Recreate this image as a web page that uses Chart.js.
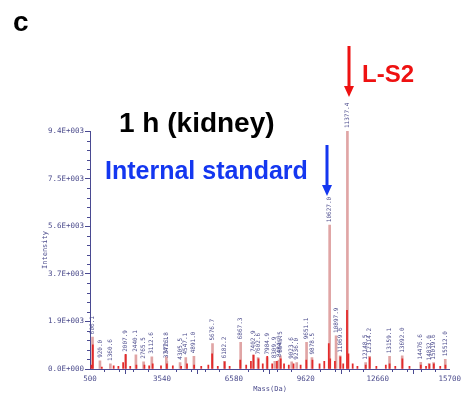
<!DOCTYPE html>
<html>
<head>
<meta charset="utf-8">
<script src="https://cdn.jsdelivr.net/npm/chart.js@4.4.1/dist/chart.umd.min.js"></script>
<style>
  html, body { margin: 0; padding: 0; background: #fff; }
  #wrap { width: 462px; height: 397px; position: relative; }
</style>
</head>
<body>
<div id="wrap"><canvas id="grafico" width="462" height="397"></canvas></div>
<script>
// picos rotulados (centroides, rosa claro)
const peakMasses = [606.1, 920.0, 1360.6, 2007.9, 2440.1, 2765.5, 3112.6, 3726.8, 3747.1, 4305.5, 4547.1, 4891.0,
  5676.7, 6182.2, 6867.3, 7402.9, 7602.6, 7984.9, 8309.9, 8484.0, 8545.5, 9023.6, 9236.0, 9651.1, 9878.5,
  10627.0, 10897.9, 11069.6, 11377.4, 12148.5, 12314.2, 13159.1, 13692.0, 14476.6, 14832.0, 15019.6, 15512.0];
const peakHeights = [1250, 320, 200, 560, 560, 280, 480, 480, 300, 250, 450, 500,
  1000, 300, 1050, 550, 450, 450, 300, 350, 520, 280, 250, 1050, 450,
  5650, 1300, 520, 9350, 250, 500, 500, 520, 260, 220, 250, 380];

// perfil (vermelho)
const redMasses = [560, 620, 1000, 1500, 1700, 1900, 2007, 2200, 2460, 2800, 3000, 3150, 3500, 3750, 4000, 4350,
  4600, 4900, 5200, 5500, 5660, 5900, 6190, 6400, 6850, 7100, 7300, 7410, 7620, 7800, 7990, 8200, 8400, 8560,
  8700, 8900, 9100, 9400, 9640, 9900, 10200, 10400, 10590, 10650, 10850, 11080, 11200, 11360, 11420, 11600,
  11800, 12150, 12320, 12600, 13000, 13160, 13400, 13700, 14000, 14480, 14700, 14840, 15030, 15300, 15520];
const redHeights = [150, 950, 80, 120, 100, 250, 580, 100, 150, 150, 120, 200, 120, 200, 120, 100,
  200, 150, 100, 150, 600, 100, 280, 100, 350, 150, 300, 550, 400, 200, 500, 200, 300, 400,
  200, 150, 200, 150, 350, 350, 200, 300, 1000, 400, 300, 480, 200, 2300, 600, 200,
  100, 150, 450, 100, 150, 200, 100, 400, 100, 150, 100, 180, 200, 100, 150];

const xTicks = [500, 3540, 6580, 9620, 12660, 15700];
const xTickLabels = ["500", "3540", "6580", "9620", "12660", "15700"];
const yTicks = [0, 1870, 3740, 5610, 7480, 9350];
const yTickLabels = ["0.0E+000", "1.9E+003", "3.7E+003", "5.6E+003", "7.5E+003", "9.4E+003"];

const corEixo = "#4a4a92";
const fonteMono = "'DejaVu Sans Mono', monospace";
const fonteTexto = "'Liberation Sans', Arial, sans-serif";

// plugin: ticks menores, rótulos dos picos e anotações
const anotacoes = {
  id: "anotacoes",
  afterDraw(chart) {
    const ctx = chart.ctx;
    const x = chart.scales.x;
    const y = chart.scales.y;
    ctx.save();

    // ticks menores
    ctx.strokeStyle = corEixo;
    ctx.lineWidth = 1;
    for (let i = 0; i < yTicks.length - 1; i++) {
      const passo = (yTicks[i + 1] - yTicks[i]) / 5;
      for (let k = 1; k < 5; k++) {
        const py = Math.round(y.getPixelForValue(yTicks[i] + passo * k)) + 0.5;
        ctx.beginPath();
        ctx.moveTo(x.left - 3, py);
        ctx.lineTo(x.left, py);
        ctx.stroke();
      }
    }
    for (let i = 0; i < xTicks.length - 1; i++) {
      const passo = (xTicks[i + 1] - xTicks[i]) / 5;
      for (let k = 1; k < 5; k++) {
        const px = Math.round(x.getPixelForValue(xTicks[i] + passo * k)) + 0.5;
        ctx.beginPath();
        ctx.moveTo(px, y.bottom);
        ctx.lineTo(px, y.bottom + 3);
        ctx.stroke();
      }
    }

    // rótulos dos picos
    ctx.fillStyle = "#4b4b8c";
    ctx.font = "6px " + fonteMono;
    ctx.textAlign = "left";
    ctx.textBaseline = "middle";
    peakMasses.forEach((m, i) => {
      const px = x.getPixelForValue(m);
      const py = y.getPixelForValue(peakHeights[i]) - 3;
      ctx.save();
      ctx.translate(px, py);
      ctx.rotate(-Math.PI / 2);
      ctx.fillText(m.toFixed(1), 0, 0);
      ctx.restore();
    });

    // textos
    ctx.textBaseline = "middle";
    ctx.fillStyle = "#000";
    ctx.font = "bold 28px " + fonteTexto;
    ctx.fillText("c", 13, 23);
    ctx.font = "bold 28px " + fonteTexto;
    ctx.fillText("1 h (kidney)", 119, 124);
    ctx.fillStyle = "#1437f0";
    ctx.font = "bold 25px " + fonteTexto;
    ctx.fillText("Internal standard", 105, 172);
    ctx.fillStyle = "#ee1111";
    ctx.font = "bold 24px " + fonteTexto;
    ctx.fillText("L-S2", 362, 75);

    // setas
    function seta(px, y0, y1, cor) {
      ctx.fillStyle = cor;
      ctx.fillRect(px - 1.5, y0, 3, y1 - y0 - 10);
      ctx.beginPath();
      ctx.moveTo(px - 5, y1 - 11);
      ctx.lineTo(px + 5, y1 - 11);
      ctx.lineTo(px, y1);
      ctx.closePath();
      ctx.fill();
    }
    seta(327, 145, 196, "#1437f0");
    seta(349, 46, 97, "#ee1111");

    // títulos dos eixos
    ctx.fillStyle = "#4b4b8c";
    ctx.font = "7px " + fonteMono;
    ctx.textAlign = "center";
    ctx.fillText("Mass(Da)", 270, 389);
    ctx.save();
    ctx.translate(45, 250);
    ctx.rotate(-Math.PI / 2);
    ctx.fillText("Intensity", 0, 0);
    ctx.restore();

    ctx.restore();
  }
};

new Chart(document.getElementById("grafico"), {
  type: "bar",
  data: {
    datasets: [
      {
        label: "perfil",
        data: redMasses.map((m, i) => ({ x: m, y: redHeights[i] })),
        backgroundColor: "#e42a2a",
        barThickness: 1.1,
        order: 1,
      },
      {
        label: "picos",
        data: peakMasses.map((m, i) => ({ x: m, y: peakHeights[i] })),
        backgroundColor: "rgba(224, 165, 165, 1)",
        barThickness: 2,
        order: 2,
      },
    ],
  },
  options: {
    responsive: false,
    animation: false,
    grouped: false,
    layout: { padding: { left: 0, right: 10, top: 131, bottom: 0 } },
    plugins: { legend: { display: false }, tooltip: { enabled: false } },
    scales: {
      x: {
        type: "linear",
        min: 500,
        max: 15700,
        offset: false,
        afterBuildTicks: (s) => { s.ticks = xTicks.map((v) => ({ value: v })); },
        afterFit: (s) => { s.height = 28; },
        ticks: {
          color: "#4b4b8c",
          font: { size: 7.5, family: fonteMono },
          padding: 1,
          maxRotation: 0,
          autoSkip: false,
          callback: (v, i) => xTickLabels[i],
        },
        grid: { drawOnChartArea: false, tickLength: 5, color: corEixo },
        border: { color: corEixo, width: 1 },
      },
      y: {
        min: 0,
        max: 9350,
        afterBuildTicks: (s) => { s.ticks = yTicks.map((v) => ({ value: v })); },
        afterFit: (s) => { s.width = 90; },
        ticks: {
          color: "#4b4b8c",
          font: { size: 7.5, family: fonteMono },
          padding: 1,
          autoSkip: false,
          callback: (v, i) => yTickLabels[i],
        },
        grid: { drawOnChartArea: false, tickLength: 5, color: corEixo },
        border: { color: corEixo, width: 1 },
      },
    },
  },
  plugins: [anotacoes],
});
</script>
</body>
</html>
